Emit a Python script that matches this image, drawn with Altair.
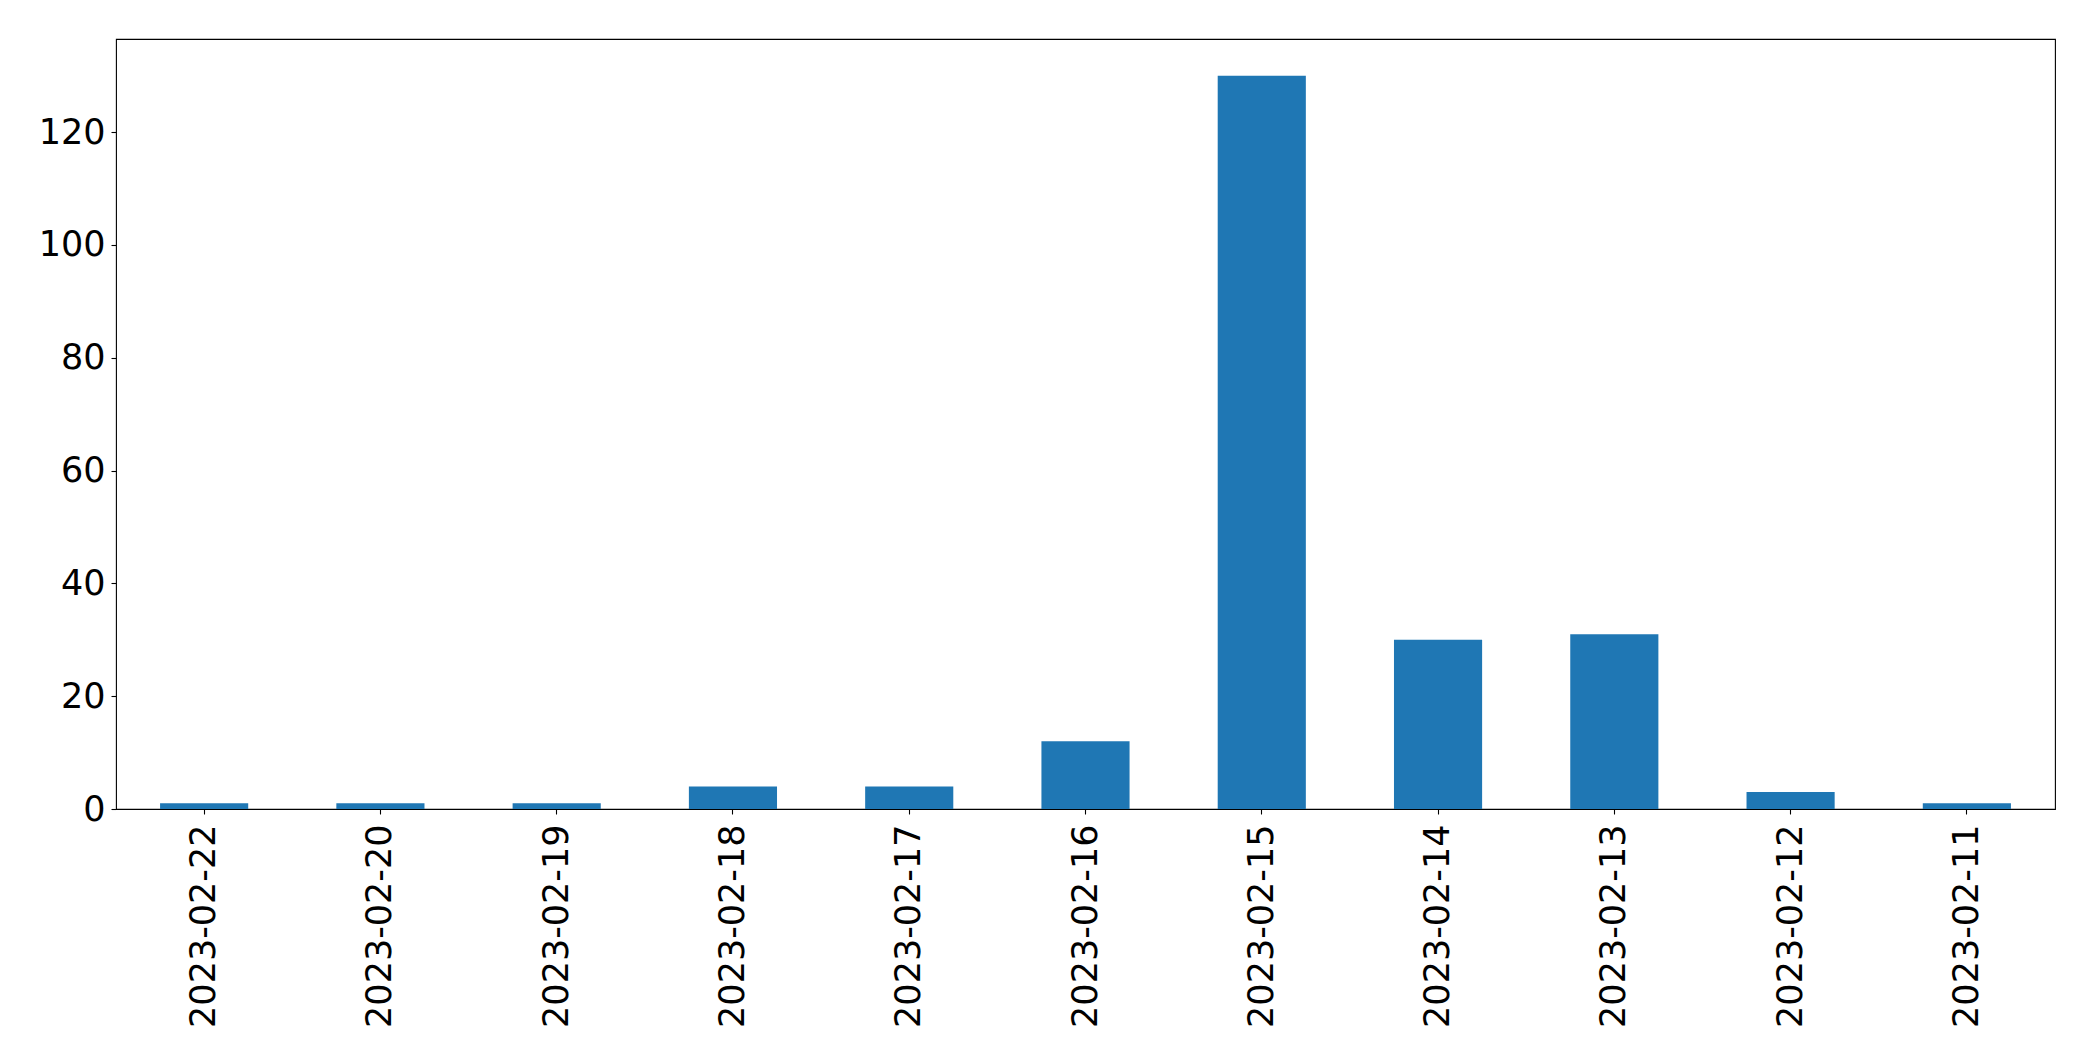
import altair as alt
import pandas as pd

dates = ["2023-02-22", "2023-02-20", "2023-02-19", "2023-02-18", "2023-02-17",
         "2023-02-16", "2023-02-15", "2023-02-14", "2023-02-13", "2023-02-12", "2023-02-11"]
counts = [1, 1, 1, 4, 4, 12, 130, 30, 31, 3, 1]
y_ticks = [0, 20, 40, 60, 80, 100, 120]

df = pd.DataFrame({"date": dates, "count": counts})

FONT = "DejaVu Sans"

chart = alt.Chart(df).mark_bar(color="#1f77b4").encode(
    x=alt.X("date:N", sort=None, title=None,
            scale=alt.Scale(paddingInner=0.5, paddingOuter=0.25),
            axis=alt.Axis(labelAngle=270, labelAlign="right", labelBaseline="middle",
                          labelFont=FONT, labelFontSize=35, labelColor="black", labelLimit=1000,
                          labelPadding=10, tickSize=5, tickColor="black", tickWidth=1.1,
                          domain=False, grid=False)),
    y=alt.Y("count:Q", title=None,
            scale=alt.Scale(domain=[0, 136.5], nice=False, zero=True),
            axis=alt.Axis(values=y_ticks, labelFont=FONT, labelFontSize=35, labelColor="black",
                          labelPadding=6, tickSize=5, tickColor="black", tickWidth=1.1,
                          domain=False, grid=False)),
).properties(
    width=1939,
    height=770,
    autosize=alt.AutoSizeParams(type="none"),
    padding={"left": 108, "top": 31, "right": 30, "bottom": 240},
).configure(
    background="white",
    view=alt.ViewConfig(stroke="black", strokeWidth=1.1),
)

chart.save("out.html", embed_options={"renderer": "svg", "actions": False})
